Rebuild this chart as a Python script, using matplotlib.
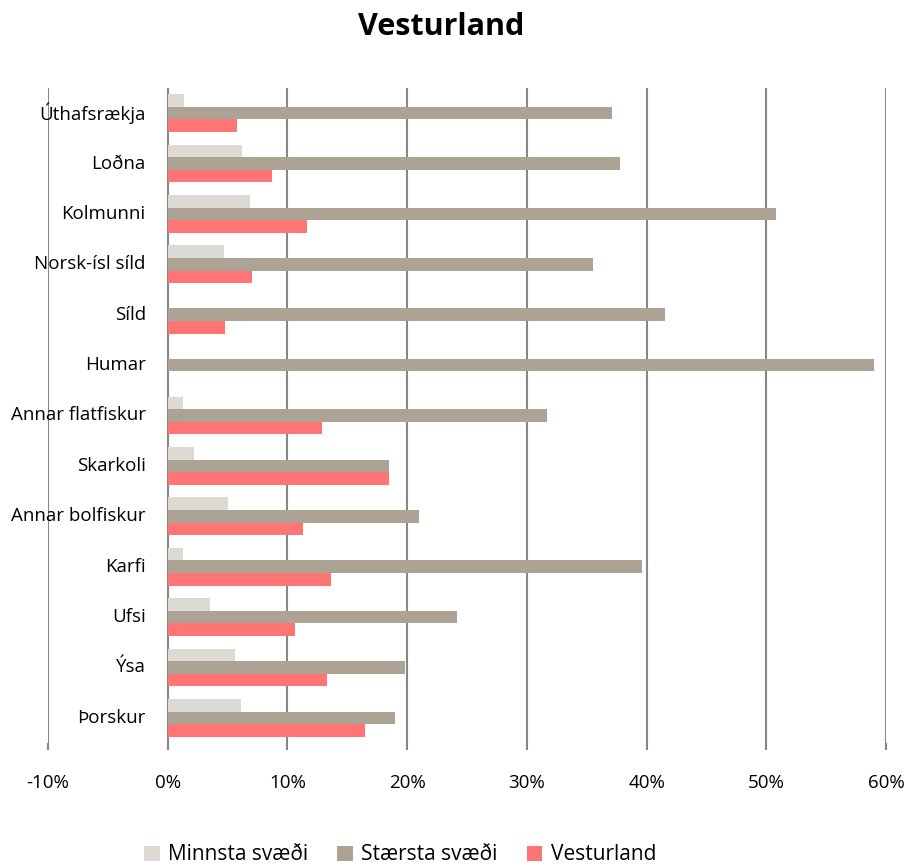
import matplotlib
matplotlib.use("Agg")
import matplotlib.pyplot as plt
import matplotlib.transforms as mtransforms
from matplotlib.patches import Patch
import numpy as np

plt.rcParams['font.family'] = ['Open Sans', 'DejaVu Sans']

categories = ["Úthafsrækja", "Loðna", "Kolmunni", "Norsk-ísl síld", "Síld", "Humar",
              "Annar flatfiskur", "Skarkoli", "Annar bolfiskur", "Karfi", "Ufsi", "Ýsa", "Þorskur"]
minnsta = [1.4, 6.2, 6.9, 4.7, 0.0, 0.0, 1.3, 2.2, 5.0, 1.3, 3.5, 5.6, 6.1]
staersta = [37.1, 37.8, 50.8, 35.5, 41.5, 59.0, 31.7, 18.5, 21.0, 39.6, 24.2, 19.8, 19.0]
vesturland = [5.8, 8.7, 11.6, 7.0, 4.8, 0.0, 12.9, 18.5, 11.3, 13.6, 10.6, 13.3, 16.5]
series_names = ["Minnsta svæði", "Stærsta svæði", "Vesturland"]
colors = ["#DDD9D3", "#ACA395", "#FF7575"]
xticks = [-10, 0, 10, 20, 30, 40, 50, 60]

fig = plt.figure(figsize=(9.10, 8.66), dpi=100)
ax = fig.add_axes([48/910, 1-743/866, (886-48)/910, (743-88)/866])

n = len(categories)
pos = np.arange(n)[::-1].astype(float)
h = 0.25
for vals, off, c, name in zip([minnsta, staersta, vesturland], [h, 0, -h], colors, series_names):
    ax.barh(pos + off, vals, height=h, color=c, linewidth=0, label=name, zorder=3)

ax.set_xlim(-10, 60)
ax.set_ylim(-0.5, n - 0.5)
ax.set_xticks(xticks)
ax.set_xticklabels([f"{t}%" for t in xticks], fontsize=13.5)
ax.tick_params(axis='x', length=5, width=1.5, color='#868686', pad=17)
ax.set_yticks([])
for s in ['top', 'right', 'bottom', 'left']:
    ax.spines[s].set_visible(False)
for t in xticks:
    ax.axvline(t, color='#868686', linewidth=1.5, zorder=1)

trans = mtransforms.offset_copy(ax.transData, fig=fig, x=-22, y=0, units='dots')
for p, cat in zip(pos, categories):
    ax.text(0, p, cat, transform=trans, ha='right', va='center', fontsize=13.5, zorder=5)

fig.text(441/910, 1-27/866, "Vesturland", ha='center', va='center', fontsize=22, fontweight='bold')

handles = [Patch(facecolor=c, edgecolor='none') for c in colors]
fig.legend(handles, series_names, loc='center', bbox_to_anchor=(400/910, 1-855/866), ncol=3,
           frameon=False, fontsize=15, handlelength=0.75, handleheight=0.75, handletextpad=0.4,
           columnspacing=1.4)

fig.savefig("out.png", dpi=100)
